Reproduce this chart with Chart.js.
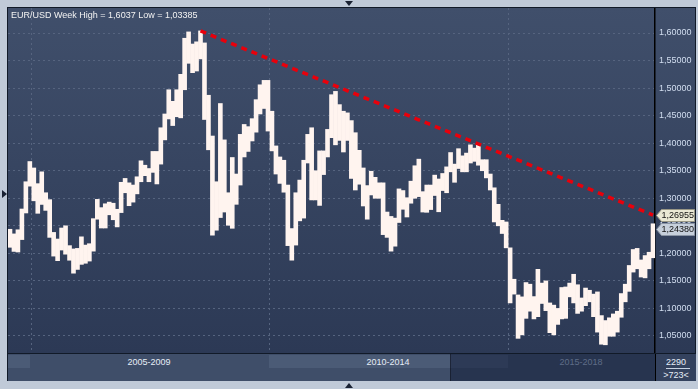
<!DOCTYPE html>
<html>
<head>
<meta charset="utf-8">
<script src="https://cdn.jsdelivr.net/npm/chart.js@4.4.0/dist/chart.umd.min.js"></script>
<style>
	html, body { margin: 0; padding: 0; width: 698px; height: 389px; overflow: hidden; background: #c0cad8; font-family: 'Liberation Sans', Arial, sans-serif; }
	#frame { position: absolute; left: 7px; top: 7px; width: 689px; height: 374px; background: #111a28; }
	#wrap { position: absolute; left: 8px; top: 8px; width: 687px; height: 345px; }
	#title { position: absolute; left: 11px; top: 10px; font-size: 9px; line-height: 10px; color: #f2f2f2; white-space: nowrap; }
	#nav { position: absolute; left: 8px; top: 354px; width: 647px; height: 27px; background: #3f4e69; overflow: hidden; }
	#nav .hl { position: absolute; top: 1px; height: 13px; background: #4b5b76; }
	#nav .lab { position: absolute; top: 3px; font-size: 9px; line-height: 10px; color: #e6edf7; transform: translateX(-50%); white-space: nowrap; }
	#win { position: absolute; left: 442px; top: 0; width: 205px; height: 27px; background: rgba(15, 26, 53, 0.5); border-left: 1px solid rgba(0, 0, 0, 0.35); }
	#navr { position: absolute; left: 655px; top: 354px; width: 40px; height: 27px; background: #34425e; border-left: 1px solid #000; }
	#navr div { position: absolute; left: 0; width: 40px; text-align: center; font-size: 9px; line-height: 10px; color: #e6edf7; }
	#navr .rule { left: 10px; width: 24px; top: 14px; height: 1px; background: #c8d2e2; }
	.tri { position: absolute; width: 0; height: 0; }
</style>
</head>
<body>
<div class="tri" style="left:2px;top:190px;border-top:4px solid transparent;border-bottom:4px solid transparent;border-left:5px solid #1a2233;"></div>
<div class="tri" style="left:345px;top:1px;border-left:4px solid transparent;border-right:4px solid transparent;border-top:5px solid #1a2233;"></div>
<div class="tri" style="left:345px;top:383px;border-left:4px solid transparent;border-right:4px solid transparent;border-bottom:5px solid #1a2233;"></div>
<div id="frame"></div>
<div id="wrap"><canvas id="chart" width="687" height="345"></canvas></div>
<div id="title">EUR/USD Week High = 1,6037 Low = 1,03385</div>
<div id="nav">
	<div class="hl" style="left:0;width:22px;"></div>
	<div class="hl" style="left:261px;width:239px;"></div>
	<div class="lab" style="left:141px;">2005-2009</div>
	<div class="lab" style="left:380px;">2010-2014</div>
	<div id="win"></div>
	<div class="lab" style="left:573px;color:#5f6d87;">2015-2018</div>
</div>
<div id="navr">
	<div style="top:3px;">2290</div>
	<div class="rule"></div>
	<div style="top:16px;">&gt;723&lt;</div>
</div>
<script>
// monthly ranges, Jul 2004 .. Jan 2018
const startYear = 2004
const startMonth = 7

const highs = [
	1.2437, 1.2353, 1.2428, 1.2805, 1.3300, 1.3667,
	1.3550, 1.3265, 1.3480, 1.3100, 1.2975, 1.2380, 1.2260, 1.2460, 1.2500, 1.2140, 1.2080, 1.2090,
	1.2300, 1.2150, 1.2175, 1.2630, 1.2980, 1.2830, 1.2900, 1.2930, 1.2910, 1.2800, 1.3290, 1.3360,
	1.3280, 1.3240, 1.3390, 1.3680, 1.3600, 1.3540, 1.3850, 1.3850, 1.4280, 1.4530, 1.4970, 1.4760,
	1.4970, 1.5250, 1.5905, 1.6020, 1.5800, 1.5840, 1.6038, 1.5820, 1.4870, 1.4130, 1.3300, 1.4720,
	1.4060, 1.3100, 1.3740, 1.3440, 1.4160, 1.4340, 1.4300, 1.4445, 1.4790, 1.5060, 1.5140, 1.5140,
	1.4580, 1.3950, 1.3750, 1.3690, 1.3240, 1.2450, 1.3100, 1.3330, 1.3690, 1.4160, 1.4280, 1.3500,
	1.3860, 1.3860, 1.4250, 1.4880, 1.4940, 1.4700, 1.4580, 1.4550, 1.4410, 1.4190, 1.3870, 1.3550,
	1.3230, 1.3490, 1.3380, 1.3280, 1.3280, 1.2750, 1.2670, 1.2640, 1.3170, 1.3140, 1.3010, 1.3310,
	1.3590, 1.3710, 1.3120, 1.3240, 1.3240, 1.3420, 1.3350, 1.3450, 1.3570, 1.3830, 1.3620, 1.3900,
	1.3770, 1.3820, 1.3970, 1.3910, 1.3993, 1.3700, 1.3700, 1.3440, 1.3190, 1.2890, 1.2600, 1.2570,
	1.2100, 1.1530, 1.1245, 1.1210, 1.1470, 1.1440, 1.1215, 1.1710, 1.1460, 1.1500, 1.1100, 1.1060,
	1.1000, 1.1380, 1.1390, 1.1460, 1.1620, 1.1430, 1.1190, 1.1370, 1.1330, 1.1260, 1.1300, 1.0870,
	1.0780, 1.0830, 1.0900, 1.0950, 1.1270, 1.1440, 1.1780, 1.2070, 1.2090, 1.1880, 1.1960, 1.2020,
	1.2537
]

const lows = [
	1.2110, 1.2035, 1.2024, 1.2250, 1.2733, 1.3220,
	1.2954, 1.2727, 1.2888, 1.2780, 1.2290, 1.1950, 1.1867, 1.2060, 1.1985, 1.1875, 1.1640, 1.1708,
	1.1800, 1.1820, 1.1860, 1.2040, 1.2620, 1.2460, 1.2460, 1.2700, 1.2610, 1.2480, 1.2740, 1.3100,
	1.2865, 1.2930, 1.3080, 1.3300, 1.3410, 1.3300, 1.3470, 1.3260, 1.3620, 1.4060, 1.4440, 1.4320,
	1.4480, 1.4460, 1.4970, 1.5450, 1.5280, 1.5310, 1.5530, 1.4430, 1.3880, 1.2330, 1.2420, 1.2650,
	1.2750, 1.2510, 1.2455, 1.2890, 1.3240, 1.3750, 1.3850, 1.4040, 1.4200, 1.4530, 1.4630, 1.4220,
	1.3860, 1.3440, 1.3270, 1.3110, 1.2140, 1.1876, 1.2150, 1.2590, 1.2640, 1.3640, 1.2970, 1.2970,
	1.2870, 1.3430, 1.3750, 1.4100, 1.3970, 1.4050, 1.3840, 1.4050, 1.3360, 1.3150, 1.3255, 1.2860,
	1.2620, 1.3060, 1.3000, 1.3000, 1.2340, 1.2290, 1.2040, 1.2130, 1.2560, 1.2800, 1.2660, 1.2910,
	1.3000, 1.3030, 1.2750, 1.2745, 1.2795, 1.3050, 1.2755, 1.3140, 1.3100, 1.3480, 1.3290, 1.3540,
	1.3480, 1.3480, 1.3640, 1.3670, 1.3600, 1.3500, 1.3370, 1.3150, 1.2570, 1.2500, 1.2360, 1.2100,
	1.1100, 1.1260, 1.0457, 1.0520, 1.0820, 1.0950, 1.0810, 1.0850, 1.1090, 1.0960, 1.0560, 1.0520,
	1.0710, 1.0810, 1.0820, 1.1210, 1.1100, 1.0910, 1.0950, 1.1050, 1.1120, 1.0850, 1.0570, 1.0350,
	1.0340, 1.0495, 1.0495, 1.0570, 1.0840, 1.1120, 1.1310, 1.1660, 1.1720, 1.1570, 1.1555, 1.1720,
	1.1920
]

const yTicks = [1.05, 1.10, 1.15, 1.20, 1.25, 1.30, 1.35, 1.40, 1.45, 1.50, 1.55, 1.60]
const gridMonths = ['2005-01', '2010-01', '2015-01']

// resistance line from the 2008 top to the last week
const trendStart = '2008-07'
const trendStartValue = 1.6037
const trendEndValue = 1.26955
const lastClose = 1.24380

const months = []
for (let i = 0; i < highs.length; i++) {
	const m = startMonth - 1 + i
	months.push(`${startYear + Math.floor(m / 12)}-${String((m % 12) + 1).padStart(2, '0')}`)
}
const lastMonth = months[months.length - 1]
const trend = months.map((m) => (m === trendStart ? trendStartValue : m === lastMonth ? trendEndValue : null))

const fmt = (v) => v.toFixed(5).replace('.', ',')
const gridColor = '#56647f'

const background = {
	id: 'background',
	beforeDraw(chart) {
		const { ctx, width, height } = chart
		const g = ctx.createLinearGradient(0, 0, 0, height)
		g.addColorStop(0, '#404f6b')
		g.addColorStop(1, '#2c3955')
		ctx.save()
		ctx.fillStyle = g
		ctx.fillRect(0, 0, width, height)
		ctx.restore()
	}
}

const priceTags = {
	id: 'priceTags',
	afterDraw(chart) {
		const { ctx, chartArea, scales } = chart
		const tags = [
			{ value: trendEndValue, fill: '#eae8d4', stroke: '#9a9886' },
			{ value: lastClose, fill: '#c6cfdb', stroke: '#8a94a4' }
		]
		ctx.save()
		ctx.font = '9px "Liberation Sans", Arial, sans-serif'
		ctx.textBaseline = 'middle'
		ctx.textAlign = 'left'
		for (const t of tags) {
			const y = Math.round(scales.y.getPixelForValue(t.value)) + 0.5
			const x0 = chartArea.right + 1.5
			const h = 12
			ctx.beginPath()
			ctx.moveTo(x0, y)
			ctx.lineTo(x0 + 5, y - h / 2)
			ctx.lineTo(x0 + 38, y - h / 2)
			ctx.lineTo(x0 + 38, y + h / 2)
			ctx.lineTo(x0 + 5, y + h / 2)
			ctx.closePath()
			ctx.fillStyle = t.fill
			ctx.fill()
			ctx.strokeStyle = t.stroke
			ctx.lineWidth = 1
			ctx.stroke()
			ctx.fillStyle = '#111'
			ctx.fillText(fmt(t.value), x0 + 5, y + 0.5)
		}
		ctx.restore()
	}
}

new Chart(document.getElementById('chart'), {
	type: 'bar',
	data: {
		labels: months,
		datasets: [
			{
				type: 'line',
				data: trend,
				borderColor: '#e8000b',
				borderWidth: 3.5,
				borderDash: [6, 5],
				pointRadius: 0,
				spanGaps: true,
				order: 0
			},
			{
				data: highs.map((h, i) => [lows[i], h]),
				backgroundColor: '#fff4ef',
				borderWidth: 0,
				barPercentage: 1,
				categoryPercentage: 1,
				order: 1
			}
		]
	},
	options: {
		responsive: false,
		maintainAspectRatio: false,
		animation: false,
		layout: { padding: 0 },
		plugins: {
			legend: { display: false },
			tooltip: { enabled: false }
		},
		scales: {
			x: {
				ticks: { display: false, autoSkip: false },
				grid: {
					offset: true,
					drawTicks: false,
					color: (c) => (gridMonths.includes(months[c.index]) ? gridColor : 'transparent')
				},
				border: { display: false, dash: [2, 3] },
				afterFit: (s) => { s.height = 0 }
			},
			y: {
				position: 'right',
				min: 1.0191,
				max: 1.6454,
				afterBuildTicks: (s) => { s.ticks = yTicks.map((v) => ({ value: v })) },
				afterFit: (s) => {
					s.width = 40
					s.paddingTop = 0
					s.paddingBottom = 0
				},
				ticks: {
					padding: 4,
					color: '#d2def0',
					font: { family: '"Liberation Sans", Arial, sans-serif', size: 9 },
					callback: (v) => fmt(v)
				},
				grid: { drawTicks: false, color: gridColor },
				border: { display: true, color: '#000', width: 1.5, dash: [2, 3] }
			}
		}
	},
	plugins: [background, priceTags]
})
</script>
</body>
</html>
